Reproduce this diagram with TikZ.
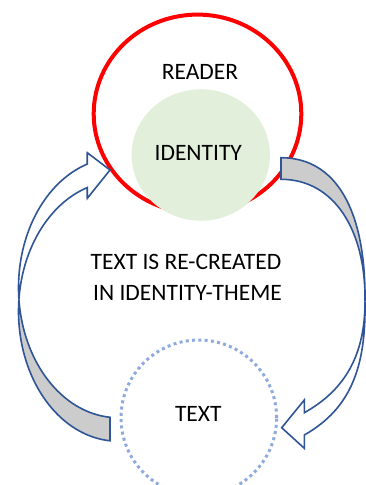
\documentclass[tikz,border=0pt]{standalone}
\usepackage{fontspec}
\setmainfont{Carlito}
\definecolor{arrowblue}{HTML}{2F5597}
\definecolor{shade}{HTML}{CCCCCC}
\definecolor{idgreen}{HTML}{E2EFDA}
\definecolor{dotblue}{HTML}{8FAADC}
\definecolor{readerred}{HTML}{FF0000}
\begin{document}
\begin{tikzpicture}[x=1pt,y=-1pt,
  arrowline/.style={draw=arrowblue, line width=1.6pt, line join=miter},
  lbl/.style={font=\fontsize{23.5}{28}\selectfont, inner sep=0pt, anchor=base, text=black}]
\fill[white] (0,0) rectangle (366,485);
\useasboundingbox (0,0) rectangle (366,485);

% reader ellipse and identity circle
\draw[readerred, line width=4pt] (197.5,113.8) ellipse [x radius=103.8pt, y radius=99.2pt];
\fill[idgreen] (200.8,155) ellipse [x radius=69.2pt, y radius=65.7pt];

% text circle (dotted)
\draw[dotblue, line width=3pt, dash pattern=on 3pt off 3.3pt] (198.8,417.8) circle [radius=77.8pt];

% left curved arrow (tail at bottom, head at top)
\path[arrowline, fill=shade]
  plot[domain=185.2:94.6, samples=40, variable=\t] ({118+99.5*cos(\t)},{311.2+130*sin(\t)})
  -- plot[domain=94.6:174.8, samples=40, variable=\t] ({118+99.5*cos(\t)},{287.7+130*sin(\t)})
  -- cycle;
\path[arrowline, fill=white]
  plot[domain=252:174.8, samples=40, variable=\t] ({118+99.5*cos(\t)},{287.7+130*sin(\t)})
  -- plot[domain=185.2:252, samples=40, variable=\t] ({118+99.5*cos(\t)},{311.2+130*sin(\t)})
  -- (87.3,198.3) -- (110,170) -- (87.3,152.7) -- cycle;

% right curved arrow (tail at top, head at bottom)
\coordinate (rx) at (365,301.7);
\path[arrowline, fill=shade]
  (281,157.7) .. controls (336,157.7) and (366,210) .. (rx)
  .. controls (366,230) and (334,179.3) .. (281,179.3) -- cycle;
\path[arrowline, fill=white]
  (rx) .. controls (366,365) and (352,408) .. (304.3,435)
  -- (304.3,448.3) -- (281.7,427.7) -- (304.3,400) -- (304.3,412.7)
  .. controls (345,390) and (365,355) .. (rx) -- cycle;

% labels
\node[lbl] (reader) at (200,79.3) {READER};
\node[lbl] (identity) at (198.3,160) {IDENTITY};
\node[lbl] (mid1) at (186,269.3) {TEXT IS RE-CREATED};
\node[lbl] (mid2) at (187.5,300.3) {IN IDENTITY-THEME};
\node[lbl] (text) at (198.3,421.7) {TEXT};
\end{tikzpicture}
\end{document}
